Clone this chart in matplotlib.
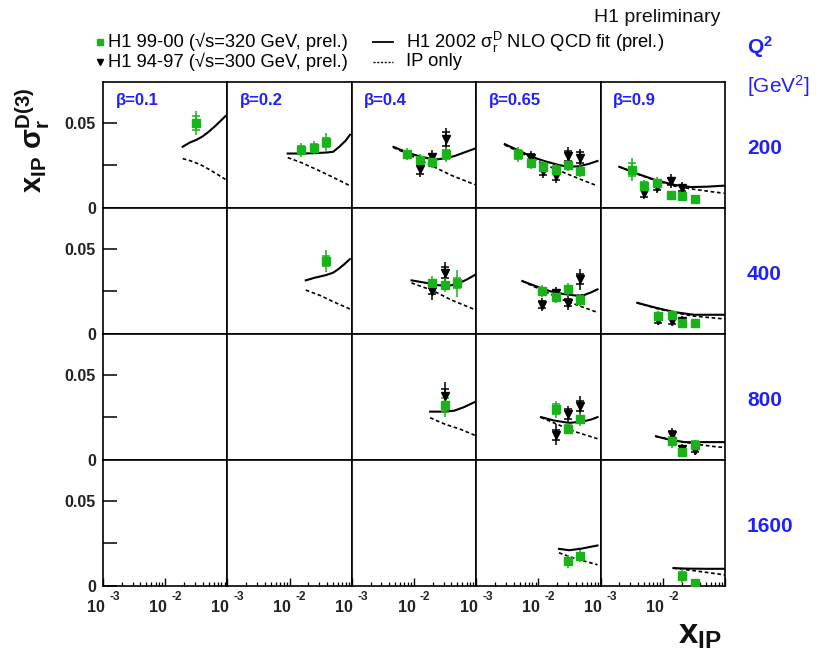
import matplotlib
matplotlib.use("Agg")
import matplotlib.pyplot as plt
from matplotlib.lines import Line2D
from matplotlib.ticker import FixedLocator, NullLocator, NullFormatter, LogLocator

plt.rcParams['font.family'] = ['Liberation Sans', 'DejaVu Sans']
plt.rcParams['mathtext.fontset'] = 'custom'
plt.rcParams['mathtext.rm'] = 'Liberation Sans'
plt.rcParams['mathtext.it'] = 'Liberation Sans:italic'
plt.rcParams['mathtext.bf'] = 'Liberation Sans:bold'

# ---------------- data ----------------
betas = ["0.1", "0.2", "0.4", "0.65", "0.9"]
q2_bins = ["200", "400", "800", "1600"]

# NLO QCD fit (solid) and IP only (dashed): (x_IP list, value list)
fit_200_b01 = ([0.0191, 0.0251, 0.0316, 0.0398, 0.0501, 0.0631, 0.0794, 0.0933],
               [0.036, 0.0385, 0.040, 0.042, 0.0448, 0.048, 0.0515, 0.054])
ip_200_b01 = ([0.0191, 0.0251, 0.0363, 0.0501, 0.0708, 0.0933],
              [0.029, 0.0278, 0.0256, 0.0228, 0.0195, 0.0168])
fit_200_b02 = ([0.00933, 0.0158, 0.0251, 0.0398, 0.0501, 0.0631, 0.0794, 0.0933],
               [0.032, 0.032, 0.0322, 0.0326, 0.033, 0.036, 0.0395, 0.043])
ip_200_b02 = ([0.00933, 0.0158, 0.0272, 0.0501, 0.0933],
              [0.0296, 0.0265, 0.0226, 0.018, 0.0131])
fit_200_b04 = ([0.00468, 0.00794, 0.0126, 0.0178, 0.0240, 0.0316, 0.0447, 0.0631, 0.0955],
               [0.0359, 0.0325, 0.0302, 0.029, 0.0286, 0.0292, 0.0305, 0.0325, 0.0349])
ip_200_b04 = ([0.00468, 0.0100, 0.0200, 0.0398, 0.0955],
              [0.0355, 0.030, 0.0245, 0.0192, 0.0137])
fit_200_b065 = ([0.00288, 0.00501, 0.00794, 0.0126, 0.0200, 0.0295, 0.0447, 0.0631, 0.0891],
                [0.0375, 0.0335, 0.030, 0.0275, 0.0255, 0.0242, 0.0245, 0.0258, 0.0276])
ip_200_b065 = ([0.00288, 0.00631, 0.0126, 0.0251, 0.0501, 0.0891],
               [0.037, 0.031, 0.0255, 0.021, 0.0165, 0.013])
fit_200_b09 = ([0.0020, 0.00398, 0.00794, 0.0158, 0.0282, 0.0501, 0.0955],
               [0.0242, 0.020, 0.0162, 0.0135, 0.0123, 0.0125, 0.0131])
ip_200_b09 = ([0.0020, 0.00398, 0.00794, 0.0158, 0.0316, 0.0631, 0.0955],
              [0.0242, 0.0198, 0.016, 0.0128, 0.011, 0.0095, 0.0087])

fit_400_b02 = ([0.0182, 0.0251, 0.0385, 0.0501, 0.0603, 0.0759, 0.0933],
               [0.0315, 0.033, 0.0346, 0.036, 0.038, 0.041, 0.044])
ip_400_b02 = ([0.0182, 0.0316, 0.0501, 0.0933], [0.0258, 0.0225, 0.019, 0.0147])
fit_400_b04 = ([0.00912, 0.0158, 0.0251, 0.0398, 0.0501, 0.0708, 0.0955],
               [0.0315, 0.030, 0.0286, 0.0286, 0.0295, 0.032, 0.0347])
ip_400_b04 = ([0.00912, 0.0200, 0.0398, 0.0955], [0.030, 0.0255, 0.020, 0.0143])
fit_400_b065 = ([0.0055, 0.0100, 0.0158, 0.0251, 0.0398, 0.0537, 0.0708, 0.0891],
                [0.0311, 0.0275, 0.025, 0.0235, 0.0226, 0.0228, 0.0245, 0.0262])
ip_400_b065 = ([0.0055, 0.0126, 0.0251, 0.0501, 0.0891], [0.031, 0.025, 0.020, 0.016, 0.0127])
fit_400_b09 = ([0.00389, 0.00794, 0.0158, 0.0316, 0.0631, 0.100],
               [0.0183, 0.0153, 0.0128, 0.0113, 0.0113, 0.0113])
ip_400_b09 = ([0.00389, 0.00794, 0.0158, 0.0316, 0.0631, 0.100],
              [0.0183, 0.015, 0.0125, 0.0105, 0.0095, 0.0088])

fit_800_b04 = ([0.0182, 0.0316, 0.0447, 0.0631, 0.0955], [0.0284, 0.0284, 0.029, 0.031, 0.0341])
ip_800_b04 = ([0.0182, 0.0316, 0.0562, 0.0955], [0.0248, 0.021, 0.018, 0.0145])
fit_800_b065 = ([0.011, 0.0178, 0.0309, 0.0501, 0.0708, 0.0891],
                [0.0252, 0.0232, 0.0218, 0.0225, 0.0238, 0.0252])
ip_800_b065 = ([0.011, 0.0200, 0.0398, 0.0891], [0.025, 0.021, 0.0165, 0.0125])
fit_800_b09 = ([0.00776, 0.0126, 0.0219, 0.0501, 0.100], [0.0139, 0.012, 0.0105, 0.0105, 0.0105])
ip_800_b09 = ([0.00776, 0.0158, 0.0316, 0.0631, 0.100], [0.0139, 0.0115, 0.0095, 0.008, 0.0073])

fit_1600_b065 = ([0.0214, 0.0316, 0.0501, 0.0891], [0.0218, 0.021, 0.022, 0.0238])
ip_1600_b065 = ([0.0214, 0.0398, 0.0891], [0.0195, 0.016, 0.0125])
fit_1600_b09 = ([0.0148, 0.0251, 0.0501, 0.100], [0.0105, 0.0102, 0.0101, 0.0101])
ip_1600_b09 = ([0.0148, 0.0316, 0.0631, 0.100], [0.0105, 0.009, 0.0075, 0.0065])

# H1 99-00 (green squares): x_IP, value, stat err, total err
h9900_200_b01 = ([0.0316], [0.050], [0.004], [0.0072])
h9900_200_b02 = ([0.0154, 0.0244, 0.0391], [0.0341, 0.0355, 0.0385], [0.0022, 0.0022, 0.0025], [0.004, 0.004, 0.0055])
h9900_200_b04 = ([0.00766, 0.0124, 0.0198, 0.0324], [0.0315, 0.0282, 0.0270, 0.0315],
                 [0.002, 0.002, 0.002, 0.0025], [0.0035, 0.0035, 0.0035, 0.0045])
h9900_200_b065 = ([0.0047, 0.00752, 0.0117, 0.0191, 0.0299, 0.0468],
                  [0.0315, 0.0266, 0.0242, 0.0226, 0.025, 0.0216],
                  [0.0025, 0.002, 0.002, 0.002, 0.002, 0.002], [0.0045, 0.0035, 0.0035, 0.0035, 0.0035, 0.0035])
h9900_200_b09 = ([0.00324, 0.00501, 0.00813, 0.0135, 0.0200, 0.0331],
                 [0.0226, 0.0131, 0.0147, 0.0077, 0.0071, 0.0052],
                 [0.004, 0.002, 0.002, 0.0012, 0.0012, 0.001], [0.007, 0.0035, 0.0035, 0.002, 0.002, 0.0015])
h9900_400_b02 = ([0.0385], [0.0427], [0.003], [0.0065])
h9900_400_b04 = ([0.0193, 0.0313, 0.0488], [0.0298, 0.0286, 0.0298], [0.002, 0.002, 0.003], [0.004, 0.004, 0.008])
h9900_400_b065 = ([0.0116, 0.0191, 0.0299, 0.0468], [0.0252, 0.0218, 0.0262, 0.0202],
                  [0.002, 0.002, 0.002, 0.002], [0.0035, 0.0035, 0.0035, 0.0035])
h9900_400_b09 = ([0.00832, 0.0138, 0.0204, 0.0324], [0.0107, 0.0113, 0.0064, 0.0064],
                 [0.0015, 0.0015, 0.0012, 0.0012], [0.003, 0.003, 0.002, 0.002])
h9900_800_b04 = ([0.0316], [0.0323], [0.004], [0.007])
h9900_800_b065 = ([0.0191, 0.0299, 0.0468], [0.0298, 0.0185, 0.0238], [0.003, 0.002, 0.002], [0.005, 0.0035, 0.004])
h9900_800_b09 = ([0.0138, 0.0204, 0.0331], [0.0113, 0.0046, 0.0089], [0.002, 0.0015, 0.002], [0.004, 0.0025, 0.003])
h9900_1600_b065 = ([0.0299, 0.0468], [0.0145, 0.0175], [0.002, 0.002], [0.004, 0.0035])
h9900_1600_b09 = ([0.0204, 0.0331], [0.006, 0.002], [0.002, 0.001], [0.004, 0.002])

# H1 94-97 (black triangles): x_IP, value, stat err, total err
h9497_200_b04 = ([0.0124, 0.0198, 0.0324], [0.0230, 0.0300, 0.0405], [0.003, 0.002, 0.004], [0.005, 0.004, 0.0065])
h9497_200_b065 = ([0.00752, 0.0117, 0.0191, 0.0299, 0.0468], [0.0296, 0.0216, 0.0186, 0.0306, 0.0296],
                  [0.002, 0.002, 0.002, 0.003, 0.003], [0.004, 0.004, 0.004, 0.005, 0.005])
h9497_200_b09 = ([0.00501, 0.00813, 0.0135, 0.0200], [0.0087, 0.0125, 0.0157, 0.0117],
                 [0.002, 0.002, 0.002, 0.002], [0.0035, 0.0035, 0.004, 0.0035])
h9497_400_b04 = ([0.0193, 0.0313], [0.0252, 0.0361], [0.002, 0.003], [0.005, 0.006])
h9497_400_b065 = ([0.0116, 0.0191, 0.0299, 0.0468], [0.0173, 0.0238, 0.0183, 0.0321],
                  [0.002, 0.002, 0.002, 0.003], [0.004, 0.004, 0.004, 0.006])
h9497_400_b09 = ([0.00832, 0.0138, 0.0204], [0.008, 0.0075, 0.0075], [0.0015, 0.0015, 0.0015], [0.003, 0.003, 0.003])
h9497_800_b04 = ([0.0316], [0.0377], [0.004], [0.008])
h9497_800_b065 = ([0.0191, 0.0299, 0.0468], [0.0149, 0.0268, 0.0317], [0.003, 0.003, 0.003], [0.006, 0.005, 0.006])
h9497_800_b09 = ([0.0138, 0.0204, 0.0331], [0.0149, 0.0065, 0.0060], [0.002, 0.0015, 0.0015], [0.004, 0.003, 0.003])

panels = {
    (0, 0): dict(fit=fit_200_b01, ip=ip_200_b01, new=h9900_200_b01),
    (0, 1): dict(fit=fit_200_b02, ip=ip_200_b02, new=h9900_200_b02),
    (0, 2): dict(fit=fit_200_b04, ip=ip_200_b04, new=h9900_200_b04, old=h9497_200_b04),
    (0, 3): dict(fit=fit_200_b065, ip=ip_200_b065, new=h9900_200_b065, old=h9497_200_b065),
    (0, 4): dict(fit=fit_200_b09, ip=ip_200_b09, new=h9900_200_b09, old=h9497_200_b09),
    (1, 1): dict(fit=fit_400_b02, ip=ip_400_b02, new=h9900_400_b02),
    (1, 2): dict(fit=fit_400_b04, ip=ip_400_b04, new=h9900_400_b04, old=h9497_400_b04),
    (1, 3): dict(fit=fit_400_b065, ip=ip_400_b065, new=h9900_400_b065, old=h9497_400_b065),
    (1, 4): dict(fit=fit_400_b09, ip=ip_400_b09, new=h9900_400_b09, old=h9497_400_b09),
    (2, 2): dict(fit=fit_800_b04, ip=ip_800_b04, new=h9900_800_b04, old=h9497_800_b04),
    (2, 3): dict(fit=fit_800_b065, ip=ip_800_b065, new=h9900_800_b065, old=h9497_800_b065),
    (2, 4): dict(fit=fit_800_b09, ip=ip_800_b09, new=h9900_800_b09, old=h9497_800_b09),
    (3, 3): dict(fit=fit_1600_b065, ip=ip_1600_b065, new=h9900_1600_b065),
    (3, 4): dict(fit=fit_1600_b09, ip=ip_1600_b09, new=h9900_1600_b09),
}

# ---------------- styling ----------------
GREEN = "#19b319"
BLUE = "#1f1fff"
W, H = 818, 652
fig = plt.figure(figsize=(W / 100, H / 100), dpi=100)
fig.patch.set_facecolor("white")


def fx(x):
    return x / W


def fy(y):
    return 1 - y / H


L, R, T, B = 103, 725, 82, 586
ncol, nrow = len(betas), len(q2_bins)
cw = (R - L) / ncol
rh = (B - T) / nrow


def draw_points(ax, data, color, marker, ms):
    xs, ys, st, tot = data
    ax.errorbar(xs, ys, yerr=tot, fmt='none', ecolor=color, elinewidth=1.1, capsize=0, zorder=3)
    ax.errorbar(xs, ys, yerr=st, fmt='none', ecolor=color, elinewidth=1.1, capsize=3.0, capthick=1.1, zorder=3)
    ax.plot(xs, ys, linestyle='none', marker=marker, color=color, ms=ms, zorder=4)


for r in range(nrow):
    for c in range(ncol):
        ax = fig.add_axes([fx(L + c * cw), fy(T + (r + 1) * rh), cw / W, rh / H])
        ax.set_xscale('log')
        ax.set_xlim(1e-3, 1e-1)
        ax.set_ylim(0, 0.074)
        for s in ax.spines.values():
            s.set_linewidth(1.2)
        p = panels.get((r, c))
        if p:
            ax.plot(p['ip'][0], p['ip'][1], color='black', lw=1.2, dashes=(2.2, 1.6), zorder=2)
            ax.plot(p['fit'][0], p['fit'][1], color='black', lw=1.5, zorder=2)
            if 'old' in p:
                draw_points(ax, p['old'], 'black', 'v', 6)
            draw_points(ax, p['new'], GREEN, 's', 6)
        # y axis
        if c == 0:
            ax.yaxis.set_major_locator(FixedLocator([0, 0.025, 0.05]))
            ax.set_yticklabels(['0', '', '0.05'], fontsize=11.5, fontweight='bold', color='#222222')
            ax.tick_params(axis='y', direction='in', length=10, width=1.1, pad=5)
        else:
            ax.yaxis.set_major_locator(NullLocator())
        ax.yaxis.set_minor_locator(NullLocator())
        # x axis
        if r == nrow - 1:
            ax.xaxis.set_major_locator(FixedLocator([1e-3, 1e-2, 1e-1]))
            ax.xaxis.set_minor_locator(LogLocator(base=10, subs=[2, 3, 4, 5, 6, 7, 8, 9], numticks=20))
            ax.xaxis.set_major_formatter(NullFormatter())
            ax.xaxis.set_minor_formatter(NullFormatter())
            ax.tick_params(axis='x', which='major', direction='in', length=6, width=1.0)
            ax.tick_params(axis='x', which='minor', direction='in', length=3, width=0.9)
        else:
            ax.xaxis.set_major_locator(NullLocator())
            ax.xaxis.set_minor_locator(NullLocator())
        if r == 0:
            ax.text(0.10, 0.85, "β=" + betas[c], transform=ax.transAxes, color=BLUE,
                    fontsize=12, fontweight='bold', va='center', ha='left')

# x tick labels (ROOT style "10 ^-3")
for c in range(ncol):
    for k, ex in enumerate(["-3", "-2"]):
        tx = L + c * cw + k * cw / 2
        fig.text(fx(tx + 1.5), fy(607), "10", ha='right', va='center', fontsize=11.5,
                 fontweight='bold', color='#222222')
        fig.text(fx(tx + 6), fy(597), ex, ha='left', va='center', fontsize=8.5,
                 fontweight='bold', color='#222222')

# Q2 labels
fig.text(fx(747), fy(47), r"$\mathbf{Q^2}$", color=BLUE, fontsize=15, ha='left', va='center')
fig.text(fx(747), fy(86), r"[GeV$^2$]", color=BLUE, fontsize=15, ha='left', va='center')
for r, q in enumerate(q2_bins):
    fig.text(fx(747), fy(T + r * rh + 66), q, color=BLUE, fontsize=15, fontweight='bold',
             ha='left', va='center')

# title and legend
fig.text(fx(720), fy(18), "H1 preliminary", fontsize=14, ha='right', va='center', color='#111111')
fig.add_artist(Line2D([fx(100)], [fy(42)], marker='s', color=GREEN, ms=4.5, transform=fig.transFigure))
fig.add_artist(Line2D([fx(100)], [fy(62)], marker='v', color='black', ms=4.5, transform=fig.transFigure))
fig.add_artist(Line2D([fx(373), fx(393)], [fy(42), fy(42)], color='black', lw=1.3, transform=fig.transFigure))
fig.add_artist(Line2D([fx(373), fx(393)], [fy(62), fy(62)], color='black', lw=1.0, dashes=(1.5, 1.2),
                      transform=fig.transFigure))
LEG_FS = 13.2
fig.text(fx(108), fy(42), "H1 99-00 (\u221as=320 GeV, prel.)", fontsize=LEG_FS, ha='left', va='center')
fig.text(fx(108), fy(62), "H1 94-97 (\u221as=300 GeV, prel.)", fontsize=LEG_FS, ha='left', va='center')
fig.text(fx(406), fy(42), r"H1 2002 $\mathrm{\sigma_r^D}$ NLO QCD fit (prel.)", fontsize=LEG_FS,
         ha='left', va='center')
fig.text(fx(406), fy(62), "IP only", fontsize=LEG_FS, ha='left', va='center')

# axis titles
fig.text(fx(33), fy(140), r"$\mathbf{x_{IP}\ \sigma_r^{D(3)}}$", rotation=90, fontsize=21,
         ha='center', va='center', color='#111111')
fig.text(fx(700), fy(634), r"$\mathbf{x_{IP}}$", fontsize=25, ha='center', va='center', color='#111111')

fig.savefig("out.png", dpi=100, facecolor='white')
